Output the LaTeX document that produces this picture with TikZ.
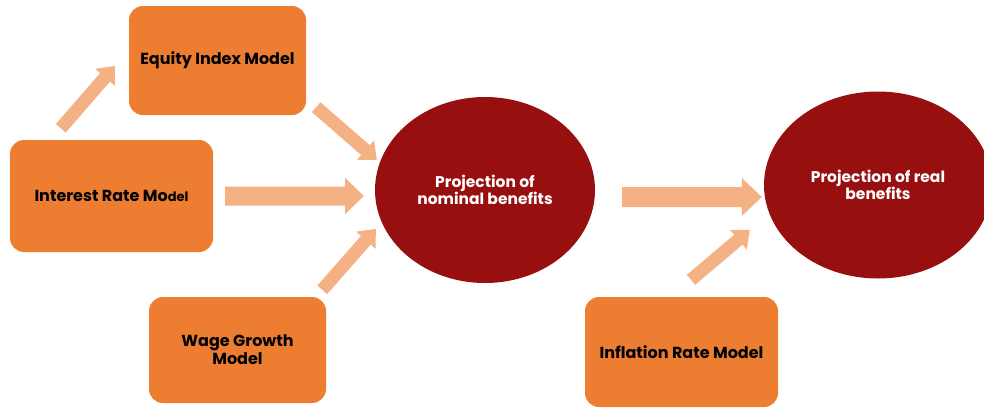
\documentclass[tikz,border=0pt]{standalone}
\usepackage{fontspec}
\setmainfont{Poppins}
\usetikzlibrary{calc,shapes.geometric}

\definecolor{boxorange}{HTML}{ED7D31}
\definecolor{flowpeach}{HTML}{F4B183}
\definecolor{ovalred}{HTML}{970F0F}

\tikzset{
  model/.style={rectangle, rounded corners=14pt, fill=boxorange, draw=none,
    text=black, align=center, inner sep=2pt,
    font=\fontsize{16}{18}\selectfont\bfseries},
  outcome/.style={ellipse, fill=ovalred, draw=none, text=white, align=center,
    inner sep=0pt, font=\fontsize{15.5}{17}\selectfont\bfseries},
  flow/.style={fill=flowpeach, draw=none}
}

% Block arrow from #1 to #2 with half shaft width #3, half head width #4, head length #5
\newcommand{\blockarrow}[5]{%
  \path ($(#2)!#5!(#1)$) coordinate (ba-base);
  \fill[flow] ($(#1)!#3!90:(#2)$) -- ($(ba-base)!#3!90:(#2)$)
    -- ($(ba-base)!#4!90:(#2)$) -- (#2)
    -- ($(ba-base)!#4!-90:(#2)$) -- ($(ba-base)!#3!-90:(#2)$)
    -- ($(#1)!#3!-90:(#2)$) -- cycle;
}

\begin{document}
\begin{tikzpicture}[x=1pt, y=-1pt]
  \useasboundingbox (0,0) rectangle (984,408);

  % source models
  \node[model, minimum width=177pt, minimum height=109pt] (eq)   at (217.5,60.5) {Equity Index Model};
  \node[model, minimum width=203pt, minimum height=112pt] (irm)  at (111.5,196)  {Interest Rate Mo{\fontsize{13}{18}\selectfont del}};
  \node[model, minimum width=177pt, minimum height=106pt] (wage) at (237.5,350)  {Wage Growth\\Model};
  \node[model, minimum width=193pt, minimum height=110pt] (infl) at (681.5,352)  {Inflation Rate Model};

  % projections
  \node[outcome, minimum width=220pt, minimum height=186pt] (nom)  at (485,190) {Projection of\\nominal benefits};
  \node[outcome, minimum width=228pt, minimum height=187pt] (real) at (878,185) {Projection of real\\benefits};

  % arrow end points, attached to the nodes they join
  \coordinate (a1t) at ($(irm.north west)+(51,-11.5)$);
  \coordinate (a1h) at ($(eq.west)+(-14,5.5)$);
  \coordinate (a2t) at ($(eq.south east)+(10,-8)$);
  \coordinate (a2h) at ($(nom.west)+(2,-30)$);
  \coordinate (a3t) at ($(wage.north east)+(-4,-7)$);
  \coordinate (a3h) at ($(nom.west)+(1,39)$);
  \coordinate (a4t) at ($(infl.north)+(9.5,-17)$);
  \coordinate (a4h) at ($(real.west)+(-14,45)$);
  \coordinate (a5t) at ($(irm.east)+(12,0)$);
  \coordinate (a5h) at ($(nom.west)+(-11,6)$);
  \coordinate (a6t) at ($(nom.east)+(27,7)$);
  \coordinate (a6h) at ($(real.west)+(-2,12)$);

  % diagonal arrows
  \blockarrow{a1t}{a1h}{6.5pt}{13pt}{15pt}
  \blockarrow{a2t}{a2h}{6.5pt}{13pt}{15pt}
  \blockarrow{a3t}{a3h}{6.5pt}{13pt}{15pt}
  \blockarrow{a4t}{a4h}{6.5pt}{13pt}{15pt}
  % horizontal arrows
  \blockarrow{a5t}{a5h}{9.5pt}{18.5pt}{19pt}
  \blockarrow{a6t}{a6h}{10pt}{19pt}{20pt}
\end{tikzpicture}
\end{document}
